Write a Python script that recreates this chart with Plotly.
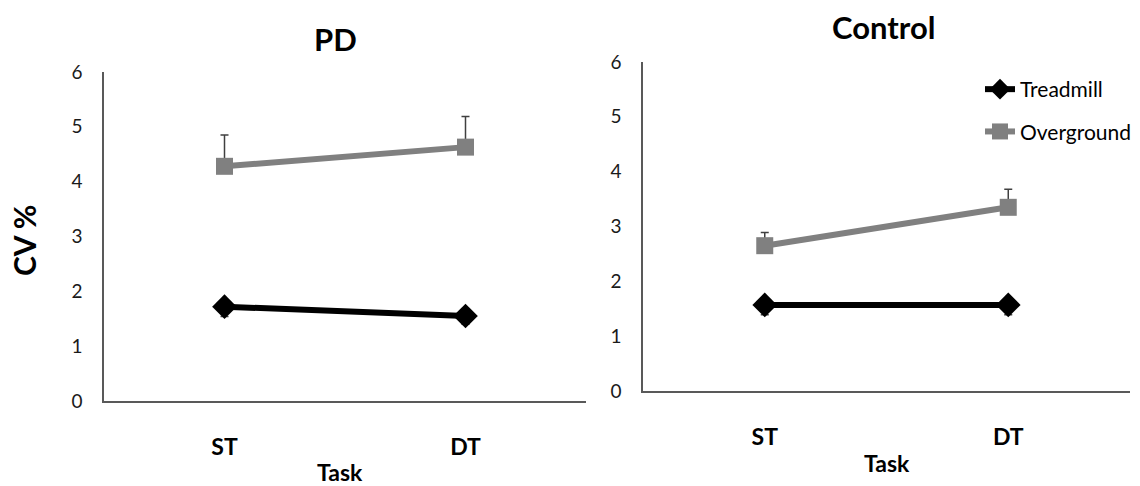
import plotly.graph_objects as go

tasks = ["ST", "DT"]

pd_overground = [4.28, 4.63]
pd_overground_err = [0.57, 0.56]
pd_treadmill = [1.72, 1.55]
pd_treadmill_err = [0.18, 0.15]

ctrl_overground = [2.65, 3.35]
ctrl_overground_err = [0.24, 0.33]
ctrl_treadmill = [1.57, 1.57]
ctrl_treadmill_err = [0.18, 0.18]

y_ticks = [0, 1, 2, 3, 4, 5, 6]

FONT = "Lato"
GRAY = "#808080"
BLACK = "#000000"
AXIS = "#595959"

fig = go.Figure()


def add_pair(xa, ya, tread, tread_err, over, over_err, show):
    fig.add_trace(go.Scatter(
        x=tasks, y=over, name="Overground", mode="lines+markers",
        line=dict(color=GRAY, width=6),
        marker=dict(symbol="square", size=17, color=GRAY),
        error_y=dict(type="data", array=over_err, arrayminus=[0] * len(over_err),
                     color="#404040", thickness=1.5, width=4),
        xaxis=xa, yaxis=ya, showlegend=show, legendgroup="o", legendrank=2,
    ))
    fig.add_trace(go.Scatter(
        x=tasks, y=tread, name="Treadmill", mode="lines+markers",
        line=dict(color=BLACK, width=6),
        marker=dict(symbol="diamond", size=19, color=BLACK),
        error_y=dict(type="data", array=[0] * len(tread_err), arrayminus=tread_err,
                     color="#404040", thickness=1.5, width=4),
        xaxis=xa, yaxis=ya, showlegend=show, legendgroup="t", legendrank=1,
    ))


add_pair("x", "y", pd_treadmill, pd_treadmill_err, pd_overground, pd_overground_err, False)
add_pair("x2", "y2", ctrl_treadmill, ctrl_treadmill_err, ctrl_overground, ctrl_overground_err, True)

xcommon = dict(type="category", range=[-0.5, 1.5], showline=True, linecolor=AXIS,
               linewidth=1.5, showgrid=False, zeroline=False, ticks="",
               tickfont=dict(family=FONT, size=23, color=BLACK, weight="bold"),
               ticklabelstandoff=25, fixedrange=True, automargin=False)
ycommon = dict(range=[0, 6], tickvals=y_ticks, showline=True, linecolor=AXIS,
               linewidth=1.5, showgrid=False, zeroline=False, ticks="",
               tickfont=dict(family=FONT, size=19, color="#1a1a1a"),
               ticklabelstandoff=16, fixedrange=True, automargin=False)

W, H = 1140, 486
fig.update_layout(
    width=W, height=H,
    margin=dict(l=0, r=0, t=0, b=0, autoexpand=False),
    paper_bgcolor="white", plot_bgcolor="white",
    xaxis=dict(domain=[104 / W, 586 / W], anchor="y", **xcommon),
    yaxis=dict(domain=[1 - 401 / H, 1 - 72 / H], anchor="x", **ycommon),
    xaxis2=dict(domain=[643 / W, 1130 / W], anchor="y2", **xcommon),
    yaxis2=dict(domain=[1 - 391 / H, 1 - 62 / H], anchor="x2", **ycommon),
    legend=dict(x=980 / W, y=1 - 69 / H, xanchor="left", yanchor="top",
                font=dict(family=FONT, size=21, color=BLACK),
                bgcolor="rgba(0,0,0,0)", tracegroupgap=12, itemwidth=30),
    showlegend=True,
)

annotations = [
    dict(text="PD", x=335 / W, y=1 - 39 / H, font=dict(size=31, weight="bold")),
    dict(text="Control", x=883 / W, y=1 - 27 / H, font=dict(size=31, weight="bold")),
    dict(text="CV %", x=24 / W, y=1 - 241 / H, textangle=-90, font=dict(size=30, weight="bold")),
    dict(text="Task", x=340 / W, y=1 - 472 / H, font=dict(size=23, weight="bold")),
    dict(text="Task", x=887 / W, y=1 - 463 / H, font=dict(size=23, weight="bold")),
]
for a in annotations:
    a["font"].update(family=FONT, color=BLACK)
    fig.add_annotation(xref="paper", yref="paper", showarrow=False,
                       xanchor="center", yanchor="middle", **a)

fig.write_html("out.html", config={"displayModeBar": False})
